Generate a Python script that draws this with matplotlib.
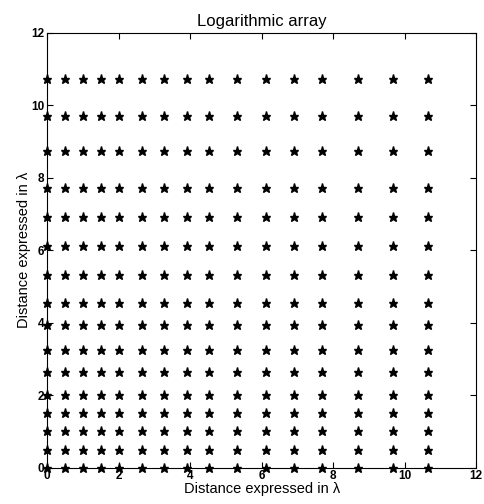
import numpy as np
import matplotlib
matplotlib.use('Agg')
import matplotlib.pyplot as plt

# Element positions (in wavelengths), same spacing along both axes
x_pos = [0, 0.5, 1.0, 1.5, 2.0, 2.65, 3.26, 3.91, 4.54, 5.31, 6.11, 6.9, 7.69, 8.7, 9.67, 10.66]
y_pos = [0, 0.49, 1.02, 1.52, 2.0, 2.63, 3.25, 3.94, 4.54, 5.33, 6.12, 6.92, 7.71, 8.74, 9.71, 10.72]
x_ticks = [0, 2, 4, 6, 8, 10, 12]
y_ticks = [0, 2, 4, 6, 8, 10, 12]

plt.rcParams['font.family'] = ['Liberation Sans', 'DejaVu Sans']

fig = plt.figure(figsize=(4.85, 5.04), dpi=100)
ax = fig.add_axes([0.097, 0.072, 0.885, 0.863])

# Build the grid of elements
X, Y = np.meshgrid(x_pos, y_pos)
ax.plot(X.ravel(), Y.ravel(), '*', color='black', markersize=6.5, clip_on=False)

ax.set_xlim(0, 12)
ax.set_ylim(0, 12)
ax.set_xticks(x_ticks)
ax.set_yticks(y_ticks)
ax.tick_params(direction='in', length=4, labelsize=8.5, pad=2,
               top=True, right=True)
for lbl in ax.get_xticklabels() + ax.get_yticklabels():
    lbl.set_fontweight('bold')

ax.set_title('Logarithmic array', fontsize=12, pad=5)
ax.set_xlabel('Distance expressed in \u03bb', fontsize=10.5, labelpad=0)
ax.set_ylabel('Distance expressed in \u03bb', fontsize=10.5, labelpad=0)

plt.savefig('out.png', dpi=100)
